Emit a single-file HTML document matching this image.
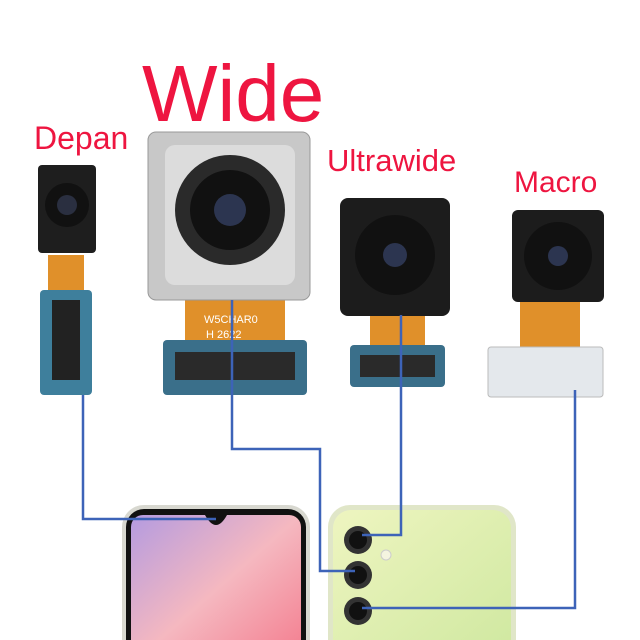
<!DOCTYPE html>
<html><head><style>
body{margin:0;width:640px;height:640px;background:#fff;position:relative;overflow:hidden;font-family:"Liberation Sans",sans-serif}
.t{position:absolute;color:#ee1540;white-space:nowrap}
.a{position:absolute}
</style></head><body>
<div class="t" style="left:142px;top:48px;font-size:80px">Wide</div>
<div class="t" style="left:34px;top:120px;font-size:32px">Depan</div>
<div class="t" style="left:327px;top:143px;font-size:31px">Ultrawide</div>
<div class="t" style="left:514px;top:166px;font-size:30px">Macro</div>
<svg class="a" style="left:0;top:0" width="640" height="640">
<defs>
<linearGradient id="scr" x1="0" y1="0" x2="1" y2="1"><stop offset="0" stop-color="#b49be0"/><stop offset=".5" stop-color="#f5b8c0"/><stop offset="1" stop-color="#f37a8c"/></linearGradient>
<linearGradient id="bk" x1="0" y1="0" x2="1" y2="1"><stop offset="0" stop-color="#eef5c0"/><stop offset="1" stop-color="#cfe8a0"/></linearGradient>
</defs>
<rect x="48" y="255" width="36" height="60" fill="#e0902a"/>
<rect x="40" y="290" width="52" height="105" rx="4" fill="#3e7f9c"/>
<rect x="52" y="300" width="28" height="80" fill="#222"/>
<rect x="38" y="165" width="58" height="88" rx="4" fill="#1e1e1e"/>
<circle cx="67" cy="205" r="22" fill="#111"/><circle cx="67" cy="205" r="10" fill="#2a2f40"/>
<rect x="185" y="295" width="100" height="55" fill="#e0902a"/>
<rect x="163" y="340" width="144" height="55" rx="4" fill="#3a6f8a"/>
<rect x="175" y="352" width="120" height="28" fill="#2a2a2a"/>
<rect x="148" y="132" width="162" height="168" rx="8" fill="#c8c8c8" stroke="#999"/>
<rect x="165" y="145" width="130" height="140" rx="10" fill="#dcdcdc"/>
<circle cx="230" cy="210" r="55" fill="#2a2a2a"/><circle cx="230" cy="210" r="40" fill="#111"/><circle cx="230" cy="210" r="16" fill="#2c3550"/>
<text x="204" y="323" font-size="11" fill="#fff" font-family="Liberation Sans">W5CHAR0</text>
<text x="206" y="338" font-size="11" fill="#fff" font-family="Liberation Sans">H 2622</text>
<rect x="370" y="300" width="55" height="50" fill="#e0902a"/>
<rect x="350" y="345" width="95" height="42" rx="4" fill="#3a6f8a"/>
<rect x="360" y="355" width="75" height="22" fill="#2a2a2a"/>
<rect x="340" y="198" width="110" height="118" rx="8" fill="#1c1c1c"/>
<circle cx="395" cy="255" r="40" fill="#111"/><circle cx="395" cy="255" r="12" fill="#2c3550"/>
<rect x="520" y="295" width="60" height="55" fill="#e0902a"/>
<rect x="488" y="347" width="115" height="50" rx="3" fill="#e4e8ec" stroke="#bbb"/>
<rect x="512" y="210" width="92" height="92" rx="6" fill="#1c1c1c"/>
<circle cx="558" cy="256" r="34" fill="#111"/><circle cx="558" cy="256" r="10" fill="#2c3550"/>
<rect x="122" y="505" width="188" height="160" rx="22" fill="#d8d8d0"/>
<rect x="126" y="509" width="180" height="155" rx="18" fill="#111"/>
<rect x="131" y="515" width="170" height="150" rx="12" fill="url(#scr)"/>
<path d="M205 515 Q216 535 227 515Z" fill="#111"/>
<rect x="328" y="505" width="188" height="160" rx="22" fill="#e0e6c8"/>
<rect x="333" y="510" width="178" height="150" rx="18" fill="url(#bk)"/>
<circle cx="358" cy="540" r="14" fill="#333"/><circle cx="358" cy="540" r="9" fill="#111"/>
<circle cx="358" cy="575" r="14" fill="#333"/><circle cx="358" cy="575" r="9" fill="#111"/>
<circle cx="358" cy="611" r="14" fill="#333"/><circle cx="358" cy="611" r="9" fill="#111"/>
<circle cx="386" cy="555" r="5" fill="#f4f4e0" stroke="#ccc"/>
<g fill="none" stroke="#3d63b8" stroke-width="2.5">
<polyline points="83,395 83,519 216,519"/>
<polyline points="232,300 232,449 320,449 320,571 355,571"/>
<polyline points="401,315 401,535 362,535"/>
<polyline points="575,390 575,608 362,608"/>
</g>
</svg>
</body></html>
